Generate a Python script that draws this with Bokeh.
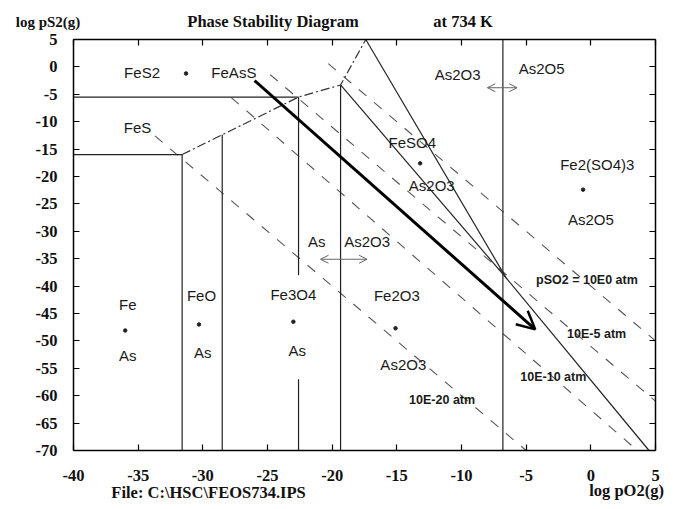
from bokeh.plotting import figure
from bokeh.models import Label, Arrow, OpenHead, LinearAxis, Range1d, FixedTicker
from bokeh.embed import file_html
from bokeh.resources import INLINE

# ---- axis ticks ----
x_ticks = [-40, -35, -30, -25, -20, -15, -10, -5, 0, 5]
y_ticks = [5, 0, -5, -10, -15, -20, -25, -30, -35, -40, -45, -50, -55, -60, -65, -70]

# ---- solid phase boundaries (segments) ----
seg_x0 = [-40.0, -40.0, -31.6, -28.5, -22.6, -22.6, -19.35, -17.4, -19.35, -6.55, -6.8]
seg_y0 = [-5.5, -16.0, -16.0, -12.4, -5.5, -57.0, -3.3, 5.0, -3.3, -38.5, 5.0]
seg_x1 = [-22.6, -31.6, -31.6, -28.5, -22.6, -22.6, -19.35, -6.55, -6.55, 4.5, -6.8]
seg_y1 = [-5.5, -16.0, -70.0, -70.0, -38.0, -70.0, -70.0, -38.5, -38.5, -70.0, -70.0]

# ---- dash-dot boundary ----
dd_x = [-31.6, -22.6, -19.35, -17.4]
dd_y = [-16.0, -5.5, -3.3, 5.0]

# ---- pSO2 isobars (dashed) ----
iso_names = ["10E0", "10E-5", "10E-10", "10E-20"]
iso_x0 = [-20.3, -24.8, -27.8, -33.7]
iso_y0 = [0.6, -1.4, -5.6, -12.6]
iso_x1 = [5.0, 5.0, 3.6, -5.0]
iso_y1 = [-50.0, -61.0, -70.0, -70.0]

# ---- region labels ----
lab_text = ["FeS2", "FeAsS", "FeS", "As2O3", "As2O5", "FeSO4", "As2O3",
            "Fe2(SO4)3", "As2O5", "As", "As2O3", "Fe", "As", "FeO", "As",
            "Fe3O4", "As", "Fe2O3", "As2O3"]
lab_x = [-34.7, -27.6, -35.05, -10.3, -3.8, -13.8, -12.3,
         0.5, 0.0, -21.2, -17.3, -35.8, -35.8, -30.1, -30.0,
         -23.0, -22.7, -15.0, -14.5]
lab_y = [-1.0, -1.0, -11.1, -1.4, -0.3, -13.8, -21.6,
         -17.8, -27.8, -31.9, -31.9, -43.4, -52.7, -41.7, -52.1,
         -41.5, -51.8, -41.7, -54.3]

# ---- "+" dots between phase pairs ----
dot_x = [-31.3, -13.2, -0.6, -36.0, -30.3, -23.0, -15.1]
dot_y = [-1.2, -17.6, -22.4, -48.1, -47.0, -46.5, -47.7]

# ---- isobar labels ----
iso_lab = ["pSO2 = 10E0 atm", "10E-5 atm", "10E-10 atm", "10E-20 atm"]
iso_lab_x = [-0.3, 0.45, -2.9, -11.5]
iso_lab_y = [-38.8, -48.8, -56.5, -60.7]

# ---- thick reaction-path arrow ----
path_x = [-26.0, -4.3]
path_y = [-2.5, -47.9]

# ---- double-headed arrows ----
darr_x0 = [-8.0, -20.9]
darr_x1 = [-5.7, -17.3]
darr_y = [-3.8, -35.1]

# ---- layout (pixels) ----
W, H = 665, 501
PAD_L, PAD_R, PAD_T, PAD_B = 73, 10, 39, 51
xs = (x_ticks[-1] - x_ticks[0]) / (W - PAD_L - PAD_R)
ys = (y_ticks[0] - y_ticks[-1]) / (H - PAD_T - PAD_B)

p = figure(width=W, height=H,
           x_range=Range1d(x_ticks[0] - PAD_L * xs, x_ticks[-1] + PAD_R * xs),
           y_range=Range1d(y_ticks[-1] - PAD_B * ys, y_ticks[0] + PAD_T * ys),
           output_backend="svg", toolbar_location=None,
           x_axis_location=None, y_axis_location=None, min_border=0)
p.grid.visible = False
p.outline_line_color = None
p.background_fill_color = "white"
p.border_fill_color = "white"

serif = "Liberation Serif"
sans = "Liberation Sans"


def make_axis(loc, bounds, ticks, side):
    ax = LinearAxis(fixed_location=loc, bounds=bounds, ticker=FixedTicker(ticks=ticks),
                    major_tick_in=6, major_tick_out=0, minor_tick_line_color=None,
                    axis_line_width=1.5, axis_line_color="black",
                    major_tick_line_width=1.2, major_tick_line_color="black",
                    major_label_text_alpha=0, major_label_standoff=0)
    p.add_layout(ax, side)


make_axis(y_ticks[-1], (x_ticks[0], x_ticks[-1]), x_ticks, "below")
make_axis(y_ticks[0], (x_ticks[0], x_ticks[-1]), x_ticks, "above")
make_axis(x_ticks[0], (y_ticks[-1], y_ticks[0]), y_ticks, "left")
make_axis(x_ticks[-1], (y_ticks[-1], y_ticks[0]), y_ticks, "right")

# tick labels, placed at the tick values through the data scales
tick_style = dict(text_baseline="middle", text_font=serif, text_font_style="bold",
                  text_font_size="16.5px", text_color="#111111")
for t in x_ticks:
    p.add_layout(Label(x=t, y=y_ticks[-1], y_offset=-25, text=str(t), text_align="center", **tick_style))
for t in y_ticks:
    p.add_layout(Label(x=x_ticks[0], y=t, x_offset=-16, text=str(t), text_align="right", **tick_style))

# isobars
p.segment(x0=iso_x0, y0=iso_y0, x1=iso_x1, y1=iso_y1, line_color="#555555",
          line_width=1.1, line_dash="10 10")
# solid boundaries
p.segment(x0=seg_x0, y0=seg_y0, x1=seg_x1, y1=seg_y1, line_color="#222222", line_width=1.2)
# dash-dot boundary
p.line(dd_x, dd_y, line_color="#333333", line_width=1.2, line_dash="9 3 2 3")
# dots
p.scatter(dot_x, dot_y, size=3.5, color="#222222")

# region labels
for t, x, y in zip(lab_text, lab_x, lab_y):
    p.add_layout(Label(x=x, y=y, text=t, text_align="center", text_baseline="middle",
                       text_font=sans, text_font_size="15px", text_color="#1a1a1a"))
for t, x, y in zip(iso_lab, iso_lab_x, iso_lab_y):
    p.add_layout(Label(x=x, y=y, text=t, text_align="center", text_baseline="middle",
                       text_font=sans, text_font_style="bold", text_font_size="12.5px",
                       text_color="#1a1a1a"))

# reaction path arrow
p.add_layout(Arrow(end=OpenHead(size=18, line_width=2.5, line_color="black"),
                   x_start=path_x[0], y_start=path_y[0], x_end=path_x[1], y_end=path_y[1],
                   line_color="black", line_width=3))
# double arrows
for x0, x1, y in zip(darr_x0, darr_x1, darr_y):
    p.add_layout(Arrow(start=OpenHead(size=8, line_width=1, line_color="#666666"),
                       end=OpenHead(size=8, line_width=1, line_color="#666666"),
                       x_start=x0, y_start=y, x_end=x1, y_end=y,
                       line_color="#666666", line_width=1))

# header / footer texts
hdr = dict(text_baseline="middle", text_font=serif, text_font_style="bold", text_color="#111111")
p.add_layout(Label(x=-41.97, y=8.28, text="log pS2(g)", text_align="center", text_font_size="15px", **hdr))
p.add_layout(Label(x=-24.57, y=8.28, text="Phase Stability Diagram", text_align="center",
                   text_font_size="16.5px", **hdr))
p.add_layout(Label(x=-9.88, y=8.28, text="at 734 K", text_align="center", text_font_size="16.5px", **hdr))
p.add_layout(Label(x=-29.56, y=-77.66, text="File: C:\\HSC\\FEOS734.IPS", text_align="center",
                   text_font_size="16.5px", **hdr))
p.add_layout(Label(x=5.65, y=-77.3, text="log pO2(g)", text_align="right", text_font_size="16.5px", **hdr))

open("out.html", "w").write(file_html(p, INLINE))
